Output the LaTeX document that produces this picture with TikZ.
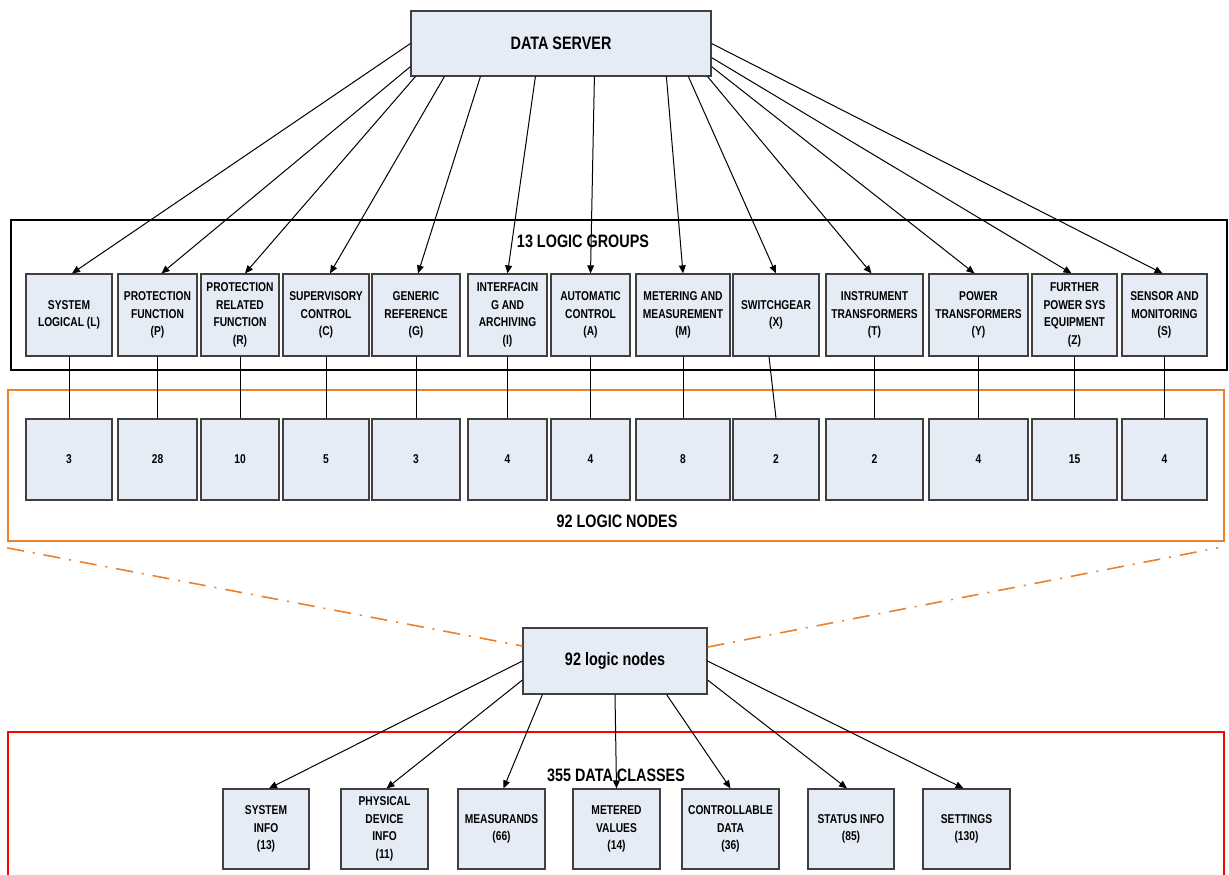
\documentclass[tikz,border=0pt]{standalone}
\usepackage{fontspec}
\setmainfont{Liberation Sans}
\newfontfamily\narrowfont{Liberation Sans}[FakeStretch=0.8]
\usepackage{tikz}
\usetikzlibrary{arrows.meta}

\definecolor{boxfill}{RGB}{230,236,246}
\definecolor{boxline}{RGB}{64,64,64}
\definecolor{lnorange}{RGB}{238,128,40}

\begin{document}
\begin{tikzpicture}[x=0.5pt,y=-0.5pt,
		box/.style={draw=boxline,fill=boxfill,line width=0.6pt,inner sep=1pt,align=center,
			font=\narrowfont\bfseries\fontsize{6.4}{8.8}\selectfont},
		title/.style={font=\narrowfont\bfseries\fontsize{9}{11}\selectfont},
		EdgeStyle/.style={line width=0.5pt,-{Triangle[length=4pt,width=3.4pt]}}]
		\useasboundingbox (0,0) rectangle (1229,874);
		% frames
		\node[draw,line width=1.2pt,minimum width=608pt,minimum height=75pt,inner sep=0pt] (groups) at (619,295) {};
		\node[draw=lnorange,line width=0.85pt,minimum width=608pt,minimum height=75.5pt,inner sep=0pt] (lnframe) at (616,465.5) {};
		\draw[red,line width=0.85pt] (8,880) -- (8,732) -- (1224,732) -- (1224,880);
		\node[title] (grouptitle) at (583,241) {13 LOGIC GROUPS};
		\node[title] (nodetitle) at (617,521) {92 LOGIC NODES};
		\node[title] (classtitle) at (616,775) {355 DATA CLASSES};
		% server
		\node[box,title,minimum width=150pt,minimum height=32.5pt] (DS) at (561,43.5) {DATA SERVER};
		% logic groups
		{
			\tikzset{box/.append style={minimum height=41pt}}
			\node[box,minimum width=43pt] (L) at (69,315) {SYSTEM\\LOGICAL (L)};
			\node[box,minimum width=39.5pt] (P) at (157.5,315) {PROTECTION\\FUNCTION\\(P)};
			\node[box,minimum width=39pt] (R) at (240,315) {PROTECTION\\RELATED\\FUNCTION\\(R)};
			\node[box,minimum width=43pt] (C) at (326,315) {SUPERVISORY\\CONTROL\\(C)};
			\node[box,minimum width=44pt] (G) at (416,315) {GENERIC\\REFERENCE\\(G)};
			\node[box,minimum width=39.5pt] (I) at (507.5,315) {INTERFACIN\\G AND\\ARCHIVING\\(I)};
			\node[box,minimum width=39.5pt] (A) at (590.5,315) {AUTOMATIC\\CONTROL\\(A)};
			\node[box,minimum width=47pt] (M) at (683,315) {METERING AND\\MEASUREMENT\\(M)};
			\node[box,minimum width=43pt] (X) at (776,315) {SWITCHGEAR\\(X)};
			\node[box,minimum width=48.5pt] (T) at (874.5,315) {INSTRUMENT\\TRANSFORMERS\\(T)};
			\node[box,minimum width=49.5pt] (Y) at (978.5,315) {POWER\\TRANSFORMERS\\(Y)};
			\node[box,minimum width=42.5pt] (Z) at (1074.5,315) {FURTHER\\POWER SYS\\EQUIPMENT\\(Z)};
			\node[box,minimum width=42.5pt] (S) at (1164.5,315) {SENSOR AND\\MONITORING\\(S)};
		}
		% logic nodes per group
		{
			\tikzset{box/.append style={minimum height=40.5pt}}
			\node[box,minimum width=43pt] (nL) at (69,459.5) {3};
			\node[box,minimum width=39.5pt] (nP) at (157.5,459.5) {28};
			\node[box,minimum width=39pt] (nR) at (240,459.5) {10};
			\node[box,minimum width=43pt] (nC) at (326,459.5) {5};
			\node[box,minimum width=44pt] (nG) at (416,459.5) {3};
			\node[box,minimum width=39.5pt] (nI) at (507.5,459.5) {4};
			\node[box,minimum width=39.5pt] (nA) at (590.5,459.5) {4};
			\node[box,minimum width=47pt] (nM) at (683,459.5) {8};
			\node[box,minimum width=43pt] (nX) at (776,459.5) {2};
			\node[box,minimum width=48.5pt] (nT) at (874.5,459.5) {2};
			\node[box,minimum width=49.5pt] (nY) at (978.5,459.5) {4};
			\node[box,minimum width=42.5pt] (nZ) at (1074.5,459.5) {15};
			\node[box,minimum width=42.5pt] (nS) at (1164.5,459.5) {4};
		}
		\node[box,title,minimum width=92pt,minimum height=33pt] (LN) at (615,661) {92 logic nodes};
		% data classes
		{
			\tikzset{box/.append style={minimum height=40pt}}
			\node[box,minimum width=43pt] (SI) at (266,829) {SYSTEM\\INFO\\(13)};
			\node[box,minimum width=43.5pt] (PD) at (384.5,829) {PHYSICAL\\DEVICE\\INFO\\(11)};
			\node[box,minimum width=43.5pt] (ME) at (501.5,829) {MEASURANDS\\(66)};
			\node[box,minimum width=43.5pt] (MV) at (616.5,829) {METERED\\VALUES\\(14)};
			\node[box,minimum width=48.5pt] (CD) at (730.5,829) {CONTROLLABLE\\DATA\\(36)};
			\node[box,minimum width=43pt] (ST) at (851,829) {STATUS INFO\\(85)};
			\node[box,minimum width=43.5pt] (SE) at (966.5,829) {SETTINGS\\(130)};
		}
		% server to groups
		\draw[EdgeStyle] (DS.west) -- ([xshift=1.5pt]L.north);
		\draw[EdgeStyle] ([yshift=5pt]DS.south west) -- ([xshift=2pt]P.north);
		\draw[EdgeStyle] ([xshift=2.5pt]DS.south west) -- ([xshift=2.5pt]R.north);
		\draw[EdgeStyle] ([xshift=17pt]DS.south west) -- ([xshift=2pt]C.north);
		\draw[EdgeStyle] ([xshift=35pt]DS.south west) -- ([xshift=1pt]G.north);
		\draw[EdgeStyle] ([xshift=62.5pt]DS.south west) -- (I.north);
		\draw[EdgeStyle] ([xshift=92pt]DS.south west) -- (A.north);
		\draw[EdgeStyle] ([xshift=128pt]DS.south west) -- (M.north);
		\draw[EdgeStyle] ([xshift=139pt]DS.south west) -- (X.north);
		\draw[EdgeStyle] ([xshift=-2pt]DS.south east) -- ([xshift=-1.5pt]T.north);
		\draw[EdgeStyle] ([yshift=5pt]DS.south east) -- ([xshift=-2pt]Y.north);
		\draw[EdgeStyle] ([yshift=9.5pt]DS.south east) -- ([xshift=-1.5pt]Z.north);
		\draw[EdgeStyle] (DS.east) -- ([xshift=-1pt]S.north);
		% groups to counts
		\draw[line width=0.5pt] (L) -- (nL);
		\draw[line width=0.5pt] (P) -- (nP);
		\draw[line width=0.5pt] (R) -- (nR);
		\draw[line width=0.5pt] (C) -- (nC);
		\draw[line width=0.5pt] (G) -- (nG);
		\draw[line width=0.5pt] (I) -- (nI);
		\draw[line width=0.5pt] (A) -- (nA);
		\draw[line width=0.5pt] (M) -- (nM);
		\draw[line width=0.5pt] ([xshift=-3.5pt]X.south) -- (nX.north);
		\draw[line width=0.5pt] (T) -- (nT);
		\draw[line width=0.5pt] (Y) -- (nY);
		\draw[line width=0.5pt] (Z) -- (nZ);
		\draw[line width=0.5pt] (S) -- (nS);
		% zoom lines
		\tikzset{zoomline/.style={lnorange,line width=0.8pt,dash pattern=on 8.5pt off 4.5pt on 1pt off 4.5pt}}
		\draw[zoomline] ([yshift=-3pt]lnframe.south west) -- ([yshift=7.5pt]LN.west);
		\draw[zoomline] ([yshift=7pt]LN.east) -- ([xshift=-3.5pt,yshift=-3pt]lnframe.south east);
		% logic nodes to data classes
		\draw[EdgeStyle] (LN.west) -- ([xshift=1.5pt]SI.north);
		\draw[EdgeStyle] ([yshift=-9.5pt]LN.west) -- ([xshift=1pt]PD.north);
		\draw[EdgeStyle] ([xshift=10pt]LN.south west) -- ([xshift=1pt]ME.north);
		\draw[EdgeStyle] (LN.south) -- (MV.north);
		\draw[EdgeStyle] ([xshift=-20.5pt]LN.south east) -- (CD.north);
		\draw[EdgeStyle] ([yshift=-9.5pt]LN.east) -- ([xshift=-2pt]ST.north);
		\draw[EdgeStyle] (LN.east) -- ([xshift=-1.5pt]SE.north);
	\end{tikzpicture}
\end{document}
